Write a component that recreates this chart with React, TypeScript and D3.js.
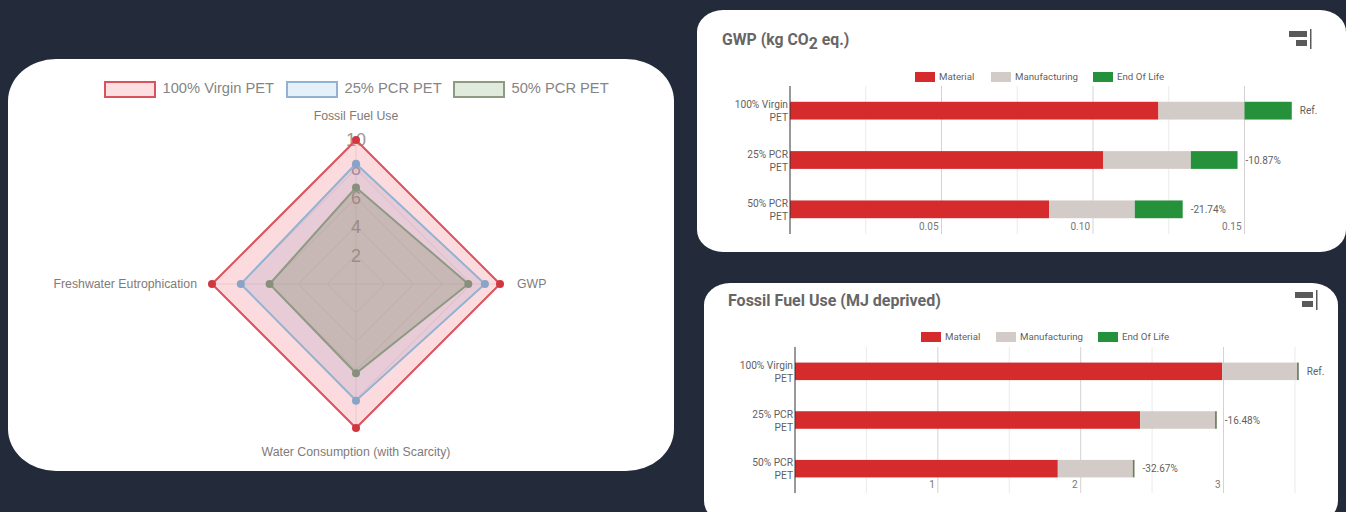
import React from "react";
import * as d3 from "d3";

// Radar chart data
const radarAxes = ["Fossil Fuel Use", "GWP", "Water Consumption (with Scarcity)", "Freshwater Eutrophication"];
const virginScores = [10, 10, 10, 10];
const pcr25Scores = [8.35, 8.95, 8.1, 8.0];
const pcr50Scores = [6.7, 7.8, 6.2, 6.0];
const radarTicks = [2, 4, 6, 8, 10];
const radarSeriesNames = ["100% Virgin PET", "25% PCR PET", "50% PCR PET"];

// Stacked bar data
const barCategories = [["100% Virgin", "PET"], ["25% PCR", "PET"], ["50% PCR", "PET"]];
const stageNames = ["Material", "Manufacturing", "End Of Life"];
const stageColors = ["#d62b2d", "#d3cbc7", "#25913a"];

const gwpMaterial = [0.1216, 0.1034, 0.0855];
const gwpManufacturing = [0.0284, 0.0289, 0.0283];
const gwpEndOfLife = [0.0156, 0.0154, 0.0158];
const gwpLabels = ["Ref.", "-10.87%", "-21.74%"];
const gwpTicks = [0.05, 0.1, 0.15];
const gwpGrid = [0.025, 0.05, 0.075, 0.1, 0.125, 0.15];

const fossilMaterial = [2.99, 2.416, 1.84];
const fossilManufacturing = [0.525, 0.525, 0.525];
const fossilEndOfLife = [0.012, 0.012, 0.012];
const fossilLabels = ["Ref.", "-16.48%", "-32.67%"];
const fossilTicks = [1, 2, 3];
const fossilGrid = [0.5, 1, 1.5, 2, 2.5, 3, 3.5];

const radarStyles = [
  { stroke: "#d9525c", fill: "rgba(240,110,120,0.25)", point: "#d2363f", swatch: "rgba(240,110,120,0.22)" },
  { stroke: "#93b2d2", fill: "rgba(130,130,190,0.16)", point: "#8aa3c8", swatch: "rgba(130,190,225,0.22)" },
  { stroke: "#8f9a85", fill: "rgba(130,140,100,0.30)", point: "#87907c", swatch: "rgba(130,170,120,0.25)" },
];

const sans = "'Liberation Sans', Arial, sans-serif";
const roboto = "Roboto, sans-serif";

function Radar() {
  const cx = 356;
  const cy = 284;
  const r = d3.scaleLinear().domain([0, 10]).range([0, 144]);
  const angles = radarAxes.map((_, i) => (i * Math.PI) / 2);
  const ring = (values: number[]) =>
    d3
      .lineRadial<number>()
      .angle((_, i) => angles[i])
      .radius((v) => r(v))
      .curve(d3.curveLinearClosed)(values) as string;
  const seriesValues = [virginScores, pcr25Scores, pcr50Scores];
  const legendX = [105, 287, 454];

  return (
    <g>
      <rect x={8} y={59} width={666} height={412} rx={48} ry={42} fill="#fff" />
      {radarSeriesNames.map((name, i) => (
        <g key={name}>
          <rect
            x={legendX[i]}
            y={82}
            width={50}
            height={15}
            fill={radarStyles[i].swatch}
            stroke={radarStyles[i].stroke}
            strokeWidth={2}
          />
          <text x={legendX[i] + 57.5} y={93} fontFamily={sans} fontSize={14.7} fill="#858585">
            {name}
          </text>
        </g>
      ))}
      <g transform={`translate(${cx},${cy})`}>
        {radarTicks.map((t) => (
          <path key={t} d={ring(radarAxes.map(() => t))} fill="none" stroke="#e6e6e6" strokeWidth={1} />
        ))}
        {angles.map((a) => (
          <line
            key={a}
            x1={0}
            y1={0}
            x2={r(10) * Math.sin(a)}
            y2={-r(10) * Math.cos(a)}
            stroke="#e6e6e6"
            strokeWidth={1}
          />
        ))}
        {radarTicks.map((t) => (
          <text
            key={t}
            x={0}
            y={-r(t)}
            dy="0.36em"
            textAnchor="middle"
            fontFamily={sans}
            fontSize={18}
            fill="#a09696"
          >
            {t}
          </text>
        ))}
        {seriesValues.map((values, i) => (
          <path
            key={radarSeriesNames[i]}
            d={ring(values)}
            fill={radarStyles[i].fill}
            stroke={radarStyles[i].stroke}
            strokeWidth={2}
          />
        ))}
        {seriesValues.map((values, i) =>
          values.map((v, j) => (
            <circle
              key={`${i}-${j}`}
              cx={r(v) * Math.sin(angles[j])}
              cy={-r(v) * Math.cos(angles[j])}
              r={4}
              fill={radarStyles[i].point}
            />
          )),
        )}
      </g>
      <g fontFamily={sans} fontSize={12.3} fill="#7f7a7a">
        <text x={cx} y={120} textAnchor="middle">{radarAxes[0]}</text>
        <text x={517} y={288}>{radarAxes[1]}</text>
        <text x={cx} y={456} textAnchor="middle">{radarAxes[2]}</text>
        <text x={197} y={288} textAnchor="end">{radarAxes[3]}</text>
      </g>
    </g>
  );
}

type BarPanelProps = {
  material: number[];
  manufacturing: number[];
  endOfLife: number[];
  labels: string[];
  ticks: number[];
  grid: number[];
  unitDomain: [number, number];
  xRange: [number, number];
  yRange: [number, number];
  tickFormat: (v: number) => string;
  legendX: number[];
  legendY: number;
  tickY: number;
};

function BarPanel(p: BarPanelProps) {
  const x = d3.scaleLinear().domain(p.unitDomain).range(p.xRange);
  const y = d3
    .scaleBand<number>()
    .domain(barCategories.map((_, i) => i))
    .range(p.yRange)
    .paddingInner(0.64)
    .paddingOuter(0.32);
  const rows = barCategories.map((_, i) => ({
    material: p.material[i],
    manufacturing: p.manufacturing[i],
    endOfLife: p.endOfLife[i],
  }));
  const stacked = d3.stack<(typeof rows)[number]>().keys(["material", "manufacturing", "endOfLife"])(rows);

  return (
    <g fontFamily={roboto}>
      {stageNames.map((name, i) => (
        <g key={name}>
          <rect x={p.legendX[i]} y={p.legendY - 5} width={20} height={10} fill={stageColors[i]} />
          <text x={p.legendX[i] + 24} y={p.legendY} dy="0.35em" fontSize={9.7} fill="#5f5f5f">
            {name}
          </text>
        </g>
      ))}
      {p.grid.map((g) => (
        <line
          key={g}
          x1={x(g)}
          x2={x(g)}
          y1={p.yRange[0]}
          y2={p.yRange[1]}
          stroke={p.ticks.includes(g) ? "#d6d2d2" : "#ece9e9"}
          strokeWidth={1}
        />
      ))}
      {stacked.map((layer, s) =>
        layer.map((d, i) => (
          <rect
            key={`${s}-${i}`}
            x={x(d[0])}
            y={y(i)}
            width={x(d[1]) - x(d[0])}
            height={y.bandwidth()}
            fill={s === 2 && p.endOfLife[i] < 0.02 && p.unitDomain[1] > 1 ? "#6f7a5f" : stageColors[s]}
          />
        )),
      )}
      <line x1={x(0)} x2={x(0)} y1={p.yRange[0]} y2={p.yRange[1]} stroke="#333" strokeWidth={1} />
      {barCategories.map((lines, i) => (
        <text key={i} textAnchor="end" fontSize={10.2} fill="#5f5f5f">
          {lines.map((l, k) => (
            <tspan key={l} x={x(0) - 2} y={(y(i) as number) + y.bandwidth() / 2 + (k === 0 ? -2.5 : 10.5)}>
              {l}
            </tspan>
          ))}
        </text>
      ))}
      {rows.map((row, i) => (
        <text
          key={i}
          x={x(row.material + row.manufacturing + row.endOfLife) + 8}
          y={(y(i) as number) + y.bandwidth() / 2}
          dy="0.35em"
          fontSize={10}
          fill="#5f5f5f"
        >
          {p.labels[i]}
        </text>
      ))}
      {p.ticks.map((t) => (
        <text key={t} x={x(t) - 3} y={p.tickY} dy="0.35em" textAnchor="end" fontSize={10} fill="#777">
          {p.tickFormat(t)}
        </text>
      ))}
    </g>
  );
}

function ChartIcon({ x, y }: { x: number; y: number }) {
  return (
    <g transform={`translate(${x},${y})`} fill="#5a5a5a">
      <rect x={0} y={2} width={18} height={6} />
      <rect x={7} y={11} width={11} height={6} />
      <rect x={21} y={0} width={1.5} height={20} />
    </g>
  );
}

export default function App() {
  return (
    <svg
      width={1346}
      height={512}
      viewBox="0 0 1346 512"
      style={{ position: "fixed", left: 0, top: 0, display: "block" }}
    >
      <rect width={1346} height={512} fill="#232b3a" />
      <Radar />

      <rect x={697} y={10} width={649} height={242} rx={26} ry={22} fill="#fff" />
      <text x={722} y={45} fontFamily={roboto} fontWeight={700} fontSize={15.8} fill="#666">
        GWP (kg CO
        <tspan dy={4}>2</tspan>
        <tspan dy={-4}> eq.)</tspan>
      </text>
      <ChartIcon x={1289} y={29} />
      <BarPanel
        material={gwpMaterial}
        manufacturing={gwpManufacturing}
        endOfLife={gwpEndOfLife}
        labels={gwpLabels}
        ticks={gwpTicks}
        grid={gwpGrid}
        unitDomain={[0, 0.15]}
        xRange={[790, 1244.5]}
        yRange={[86, 234]}
        tickFormat={(v) => d3.format(".2f")(v)}
        legendX={[915, 991, 1093]}
        legendY={77}
        tickY={226}
      />

      <rect x={704} y={283} width={634} height={240} rx={26} ry={22} fill="#fff" />
      <text x={728} y={305.5} fontFamily={roboto} fontWeight={700} fontSize={16} fill="#666">
        Fossil Fuel Use (MJ deprived)
      </text>
      <ChartIcon x={1295} y={290} />
      <BarPanel
        material={fossilMaterial}
        manufacturing={fossilManufacturing}
        endOfLife={fossilEndOfLife}
        labels={fossilLabels}
        ticks={fossilTicks}
        grid={fossilGrid}
        unitDomain={[0, 3]}
        xRange={[795, 1223.5]}
        yRange={[347, 493]}
        tickFormat={(v) => String(v)}
        legendX={[921, 996, 1098]}
        legendY={337}
        tickY={484}
      />
    </svg>
  );
}
